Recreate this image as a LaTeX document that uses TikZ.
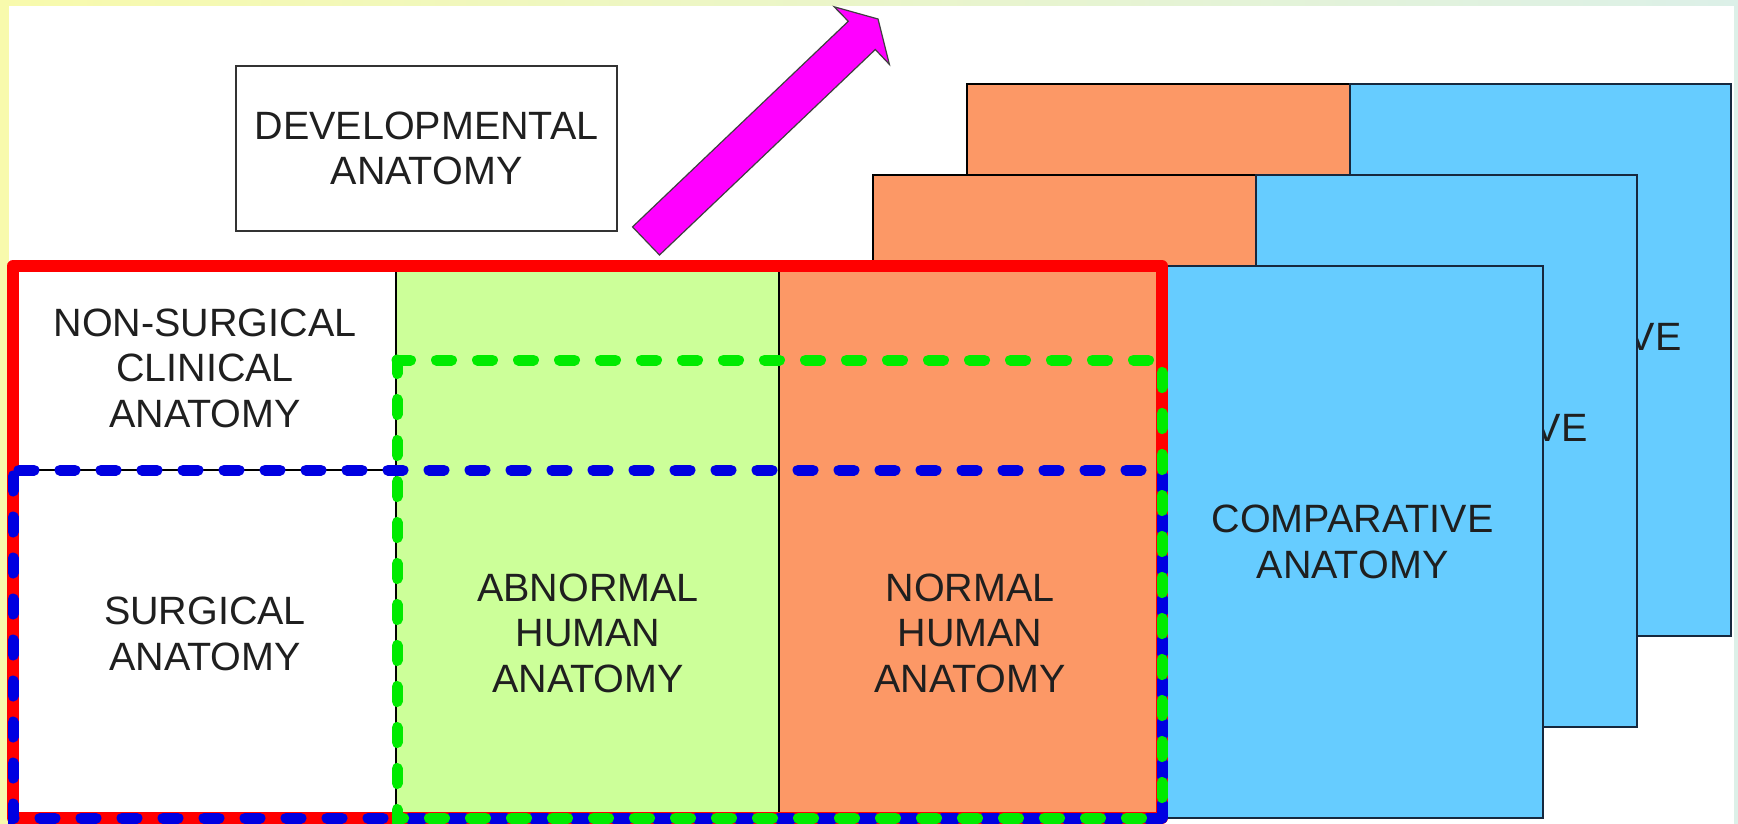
\documentclass[tikz,border=0pt]{standalone}
\usepackage{fontspec}
\setmainfont{Liberation Sans}
\usepackage{tikz}

\definecolor{cellorange}{RGB}{252,152,102}
\definecolor{cellgreen}{RGB}{204,255,153}
\definecolor{cellblue}{RGB}{102,204,255}
\definecolor{bluerim}{RGB}{22,40,62}
\definecolor{dashgreen}{RGB}{0,235,0}
\definecolor{dashblue}{RGB}{0,0,225}
\definecolor{arrowpink}{RGB}{255,0,255}
\definecolor{frameyellow}{RGB}{248,250,172}
\definecolor{framemint}{RGB}{220,240,232}

\tikzset{
 cell/.style={draw=black, line width=2pt},
 bluecell/.style={draw=bluerim, line width=2pt, fill=cellblue},
 anattext/.style={inner sep=0pt, align=center, text=black!88,
   font=\fontsize{39.5}{45.5}\selectfont},
 groupline/.style={line width=11pt, line cap=round, dash pattern=on 15pt off 26pt}
}

\begin{document}
\begin{tikzpicture}[x=1pt,y=-1pt]
 \useasboundingbox (0,0) rectangle (1738,824);
 \shade [left color=frameyellow, right color=framemint] (0,0) rectangle (1738,824); % 枠
 \fill [white] (9,6) rectangle (1734,824);

 % 一番奥の層
 \draw [cell, fill=cellorange] (967,84) rectangle (1350,636);
 \draw [bluecell] (1350,84) rectangle (1731,636);
 \node [anattext] (comp3) at (1540.5,360) {COMPARATIVE\\ANATOMY};

 % 二番目の層
 \draw [cell, fill=cellorange] (873,175) rectangle (1256,727);
 \draw [bluecell] (1256,175) rectangle (1637,727);
 \node [anattext] (comp2) at (1446.5,451) {COMPARATIVE\\ANATOMY};

 % 前面の層
 \draw [cell, fill=white] (13,266) rectangle (396,470);
 \draw [cell, fill=white] (13,470) rectangle (396,818);
 \draw [cell, fill=cellgreen] (396,266) rectangle (779,818);
 \draw [cell, fill=cellorange] (779,266) rectangle (1162,818);
 \draw [bluecell] (1162,266) rectangle (1543,818);

 \node [anattext] (nonsurg) at (205,368) {NON-SURGICAL\\CLINICAL\\ANATOMY};
 \node [anattext] (surg) at (205,634) {SURGICAL\\ANATOMY};
 \node [anattext] (abnormal) at (588,633) {ABNORMAL\\HUMAN\\ANATOMY};
 \node [anattext] (normal) at (970,633) {NORMAL\\HUMAN\\ANATOMY};
 \node [anattext] (comp1) at (1352.5,542) {COMPARATIVE\\ANATOMY};

 % 赤・緑・青の囲み
 \draw [red, line width=12pt, line join=round] (13,266) rectangle (1162,818);
 \coordinate (Q) at (1162,818); % 右下の角
 \draw [groupline, dashblue] (Q) -- (13,818) -- (13,470);
 \draw [groupline, dashblue] (Q) -- (1162,470) -- (13,470);
 \draw [groupline, dashgreen, dash phase=20.5pt] (Q) -- (397,818) -- (397,360);
 \draw [groupline, dashgreen, dash phase=20.5pt] (Q) -- (1162,360) -- (397,360);

 % 上の箱と矢印
 \node [draw=black!80, line width=1.6pt, fill=white, minimum width=381pt, minimum height=165pt,
   anattext] (devel) at (426.5,148.5) {DEVELOPMENTAL\\ANATOMY};
 \draw [fill=arrowpink, draw=black!75, line width=1.2pt]
   (659.5,255) -- (875.3,49.5) -- (889.4,64.4) -- (878,19) -- (834.2,6.8)
   -- (848.3,21.3) -- (632.5,226.9) -- cycle;
\end{tikzpicture}
\end{document}
